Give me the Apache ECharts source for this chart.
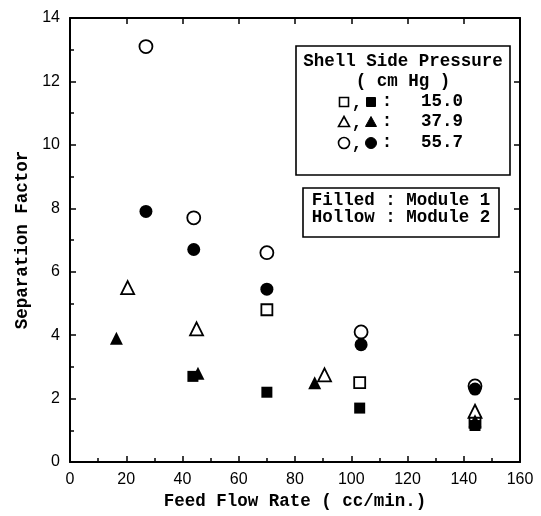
<!DOCTYPE html>
<html>
<head>
<meta charset="utf-8">
<script src="https://cdn.jsdelivr.net/npm/echarts@6/dist/echarts.min.js"></script>
<style>
  html, body { margin: 0; padding: 0; background: #fff; }
  #chart { width: 541px; height: 516px; }
</style>
</head>
<body>
<div id="chart"></div>
<script>
// Feed flow rate (cc/min.) and separation factor, per shell side pressure
// Filled = Module 1, Hollow = Module 2
const flow150Filled = [43.7, 70, 103, 144];
const sep150Filled  = [2.7, 2.2, 1.7, 1.15];
const flow150Hollow = [70, 103, 144];
const sep150Hollow  = [4.8, 2.5, 1.25];

const flow379Filled = [16.5, 45.5, 87, 144];
const sep379Filled  = [3.9, 2.8, 2.5, 1.3];
const flow379Hollow = [20.5, 45, 90.5, 144];
const sep379Hollow  = [5.5, 4.2, 2.75, 1.6];

const flow557Filled = [27, 44, 70, 103.5, 144];
const sep557Filled  = [7.9, 6.7, 5.45, 3.7, 2.3];
const flow557Hollow = [27, 44, 70, 103.5, 144];
const sep557Hollow  = [13.1, 7.7, 6.6, 4.1, 2.4];

const xTicks = [0, 20, 40, 60, 80, 100, 120, 140, 160];
const yTicks = [0, 2, 4, 6, 8, 10, 12, 14];
const pressures = ['15.0', '37.9', '55.7'];

const pair = (xs, ys) => xs.map((x, i) => [x, ys[i]]);

const chart = echarts.init(document.getElementById('chart'));

// typewriter-like bold mono for titles and legend
const monoBold = { fontFamily: 'Liberation Mono', fontWeight: 'bold', fontSize: 17.5, color: '#000' };
const tickFont = { fontFamily: 'Liberation Sans', fontSize: 16, color: '#000' };

// black frame, ticks pointing inward
const frameLine = { show: true, onZero: false, lineStyle: { color: '#000', width: 2 } };
const inTick = { show: true, inside: true, length: 6, lineStyle: { color: '#000', width: 1.5 } };
const inMinor = { show: true, splitNumber: 2, length: 4, lineStyle: { color: '#000', width: 1.5 } };

function hollow(name, symbol, size, xs, ys) {
    return {
        name: name, type: 'scatter', symbol: symbol, symbolSize: size,
        data: pair(xs, ys),
        itemStyle: { color: '#fff', borderColor: '#000', borderWidth: 1.8, opacity: 1 },
        z: 2
    };
}
function filled(name, symbol, size, xs, ys) {
    return {
        name: name, type: 'scatter', symbol: symbol, symbolSize: size,
        data: pair(xs, ys),
        itemStyle: { color: '#000', opacity: 1 },
        z: 3
    };
}

function txt(x, y, s, align) {
    return { type: 'text', x: x, y: y, z: 11,
        style: { text: s, align: align || 'center', verticalAlign: 'middle',
                 font: 'bold 17.5px "Liberation Mono"', fill: '#000' } };
}
const blk = { fill: '#000', stroke: '#000', lineWidth: 1 };
const wht = { fill: '#fff', stroke: '#000', lineWidth: 1.6 };
const sq = (cx, cy, st) => ({ type: 'rect', z: 11, shape: { x: cx - 4.5, y: cy - 4.5, width: 9, height: 9 }, style: st });
const tri = (cx, cy, st) => ({ type: 'polygon', z: 11, shape: { points: [[cx, cy - 5.5], [cx + 5.5, cy + 4.5], [cx - 5.5, cy + 4.5]] }, style: st });
const cir = (cx, cy, st) => ({ type: 'circle', z: 11, shape: { cx: cx, cy: cy, r: 5.5 }, style: st });

const rowY = [102, 122, 143];
const rowShapes = [sq, tri, cir];
const legendRows = [];
rowY.forEach((y, i) => {
    legendRows.push(rowShapes[i](344, y, wht));
    legendRows.push(txt(357, y + 2, ','));
    legendRows.push(rowShapes[i](371, y, blk));
    legendRows.push(txt(387, y, ':'));
    legendRows.push(txt(421, y, pressures[i], 'left'));
});

const option = {
    backgroundColor: '#fff',
    animation: false,
    grid: { left: 70, right: 21, top: 18, bottom: 54, containLabel: false },
    xAxis: [{
        type: 'value', min: 0, max: 160, interval: 20,
        name: 'Feed Flow Rate ( cc/min.)', nameLocation: 'middle', nameGap: 31,
        nameTextStyle: monoBold,
        axisLine: frameLine, axisTick: inTick, minorTick: inMinor,
        axisLabel: Object.assign({ margin: 10, formatter: v => xTicks.includes(v) ? String(v) : '' }, tickFont),
        splitLine: { show: false }
    }, {
        type: 'value', min: 0, max: 160, interval: 20, position: 'top',
        axisLine: frameLine, axisTick: inTick, minorTick: { show: false },
        axisLabel: { show: false }, splitLine: { show: false }
    }],
    yAxis: [{
        type: 'value', min: 0, max: 14, interval: 2,
        name: 'Separation Factor', nameLocation: 'middle', nameGap: 29,
        nameTextStyle: monoBold,
        axisLine: frameLine, axisTick: inTick, minorTick: inMinor,
        axisLabel: Object.assign({ margin: 10, formatter: v => yTicks.includes(v) ? String(v) : '' }, tickFont),
        splitLine: { show: false }
    }, {
        type: 'value', min: 0, max: 14, interval: 2, position: 'right',
        axisLine: frameLine, axisTick: inTick, minorTick: { show: false },
        axisLabel: { show: false }, splitLine: { show: false }
    }],
    series: [
        hollow('15.0 hollow', 'rect', 11, flow150Hollow, sep150Hollow),
        hollow('37.9 hollow', 'triangle', 13, flow379Hollow, sep379Hollow),
        hollow('55.7 hollow', 'circle', 13, flow557Hollow, sep557Hollow),
        filled('15.0 filled', 'rect', 11, flow150Filled, sep150Filled),
        filled('37.9 filled', 'triangle', 13, flow379Filled, sep379Filled),
        filled('55.7 filled', 'circle', 13, flow557Filled, sep557Filled)
    ],
    graphic: [
        // pressure legend box
        { type: 'rect', z: 10, shape: { x: 296, y: 46, width: 214, height: 129 },
          style: { fill: '#fff', stroke: '#000', lineWidth: 1.6 } },
        txt(403, 62, 'Shell Side Pressure'),
        txt(403, 82, '( cm Hg )'),
        ...legendRows,
        // module legend box
        { type: 'rect', z: 10, shape: { x: 303, y: 188, width: 196, height: 49 },
          style: { fill: '#fff', stroke: '#000', lineWidth: 1.6 } },
        txt(401, 201, 'Filled : Module 1'),
        txt(401, 218, 'Hollow : Module 2')
    ]
};

chart.setOption(option);
</script>
</body>
</html>
